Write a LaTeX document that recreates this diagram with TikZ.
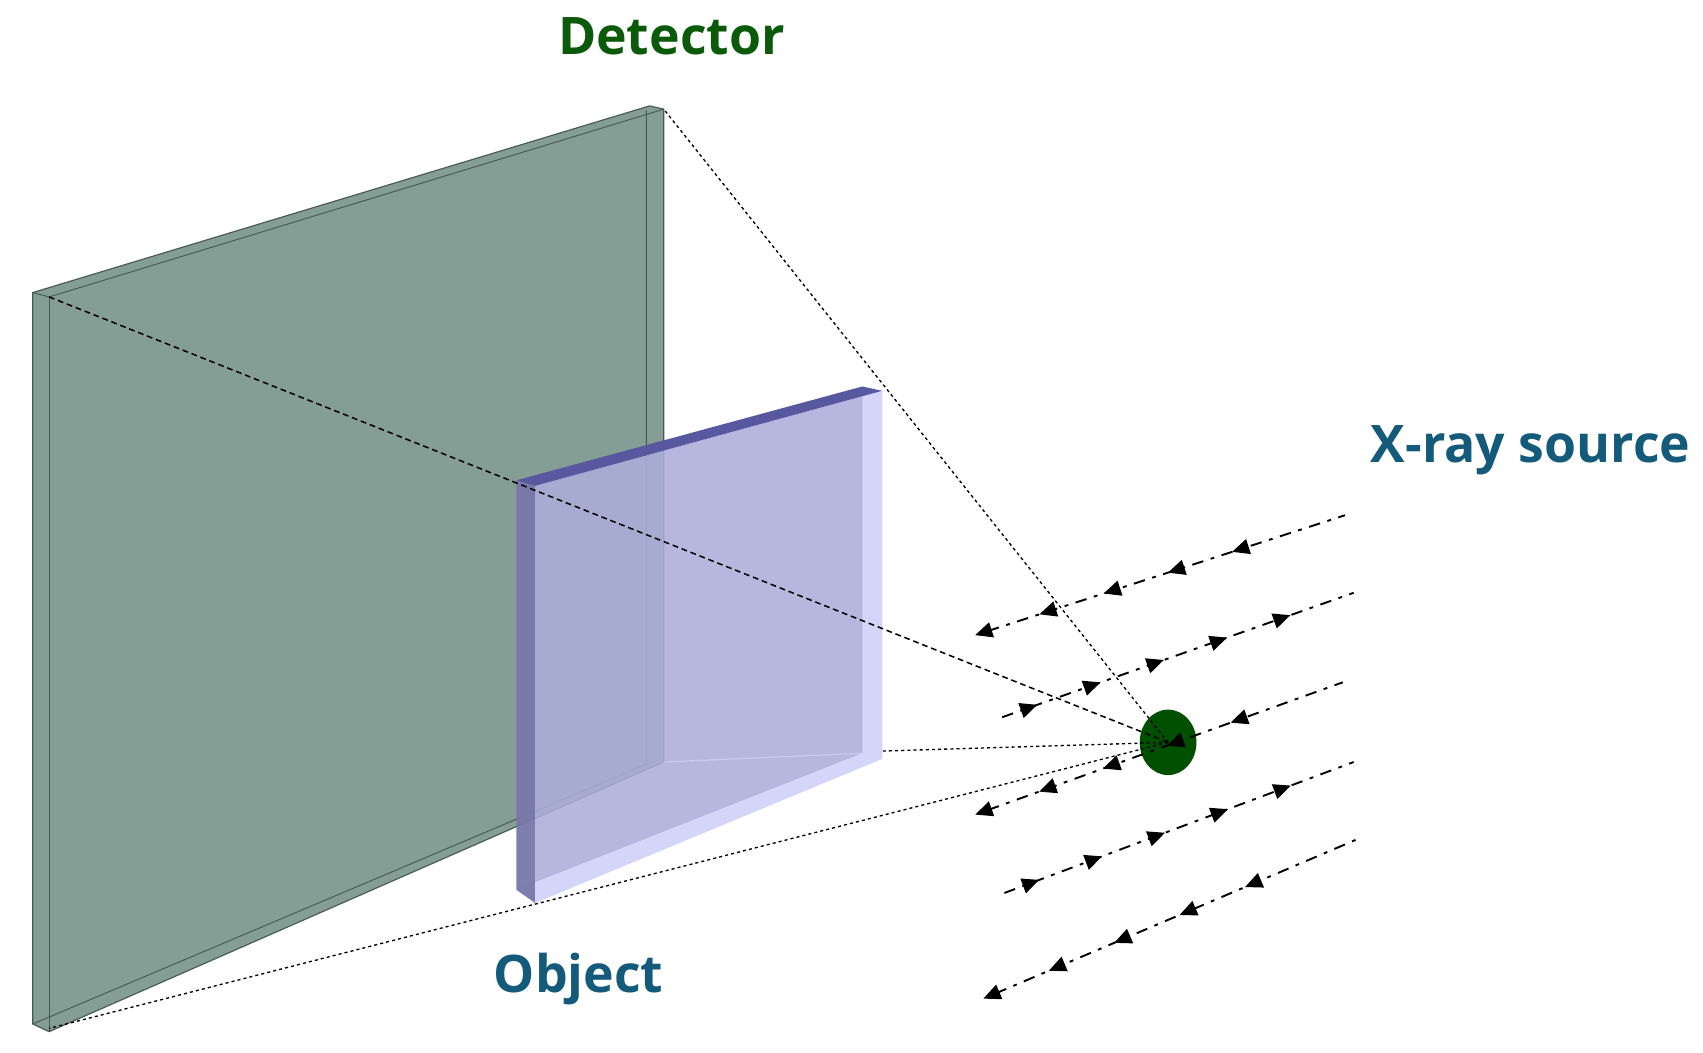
\documentclass[tikz,border=0pt]{standalone}
\usepackage{fontspec}
\setmainfont{Open Sans}
\usetikzlibrary{decorations.markings,shapes.geometric,arrows.meta}
\definecolor{det}{RGB}{132,158,149}
\definecolor{detline}{RGB}{70,90,82}
\definecolor{obj}{RGB}{172,172,218}
\definecolor{objtop}{RGB}{88,88,160}
\definecolor{objside}{RGB}{120,120,170}
\definecolor{objlight}{RGB}{218,218,252}
\definecolor{srcg}{RGB}{0,80,0}
\definecolor{lblg}{RGB}{10,90,10}
\definecolor{lblb}{RGB}{20,90,122}
\tikzset{
  lbl/.style={font=\fontsize{27}{31}\selectfont\bfseries},
  ray/.style={dash pattern=on 1.6pt off 1.6pt, line width=0.7pt},
  ray2/.style={dash pattern=on 3pt off 2pt, line width=0.8pt},
  beam/.style={dash pattern=on 6pt off 4pt on 2pt off 4pt, line width=1pt,
    postaction={decorate}},
  fwd/.style={decoration={markings,
    mark=between positions 0.1 and 0.99 step 0.18 with {\arrow{Triangle[length=9pt,width=8pt]}}}},
  bwd/.style={decoration={markings,
    mark=between positions 0.01 and 0.9 step 0.18 with {\arrow{Triangle[reversed,length=9pt,width=8pt]}}}},
}
\begin{document}
\begin{tikzpicture}[x=0.02cm,y=-0.02cm]
\useasboundingbox (0,0) rectangle (1560,964);
% detector
\fill[det] (30,268) -- (595,97) -- (608,100) -- (608,698) -- (45,945) -- (30,938) -- cycle;
\draw[detline, line width=0.6pt] (30,268) -- (595,97) -- (608,100) -- (608,698) -- (45,945) -- (30,938) -- cycle;
\draw[detline, line width=0.5pt] (30,268) -- (45,272) -- (608,100);
\draw[detline, line width=0.5pt] (45,272) -- (45,945);
\draw[detline, line width=0.5pt] (592,101) -- (592,700) -- (30,938);
% object
\fill[obj, opacity=0.88] (490,445) -- (808,358) -- (808,695) -- (490,827) -- cycle;
\fill[objlight, opacity=0.9] (790,356) -- (808,358) -- (808,695) -- (790,690) -- cycle;
\fill[objlight, opacity=0.9] (473,815) -- (790,690) -- (808,695) -- (490,827) -- cycle;
\fill[objside, opacity=0.95] (473,440) -- (490,445) -- (490,827) -- (473,815) -- cycle;
\fill[objtop] (473,440) -- (790,354) -- (808,358) -- (490,445) -- cycle;
\draw[objlight!70!obj, line width=0.6pt] (608,698) -- (790,690);
% source
\node[ellipse, fill=srcg, inner sep=0pt,
      minimum width=1.04cm, minimum height=1.2cm] (src) at (1070,680) {};
\coordinate (dTR) at (608,100);
\coordinate (dTL) at (45,272);
\coordinate (dBL) at (45,942);
\coordinate (oBR) at (808,688);
\draw[ray] (src.center) -- (dTR);
\draw[ray] (src.center) -- (dBL);
\draw[ray] (src.center) -- (oBR);
\draw[ray2] (src.center) -- (dTL);
% beams
\coordinate (a1) at (905,578); \coordinate (b1) at (1232,472);
\coordinate (a2) at (918,657); \coordinate (b2) at (1240,543);
\coordinate (a3) at (905,742); \coordinate (b3) at (1230,625);
\coordinate (a4) at (920,818); \coordinate (b4) at (1240,698);
\coordinate (a5) at (912,910); \coordinate (b5) at (1245,768);
\draw[beam,bwd] (a1) -- (b1);
\draw[beam,fwd] (a2) -- (b2);
\draw[beam,bwd] (a3) -- (b3);
\draw[beam,fwd] (a4) -- (b4);
\draw[beam,bwd] (a5) -- (b5);
% labels
\node[lbl, text=lblg] (ldet) at (615,33) {Detector};
\node[lbl, text=lblb] (lsrc) at (1402,412) {X-ray source};
\node[lbl, text=lblb] (lobj) at (530,897) {Object};
\end{tikzpicture}
\end{document}
